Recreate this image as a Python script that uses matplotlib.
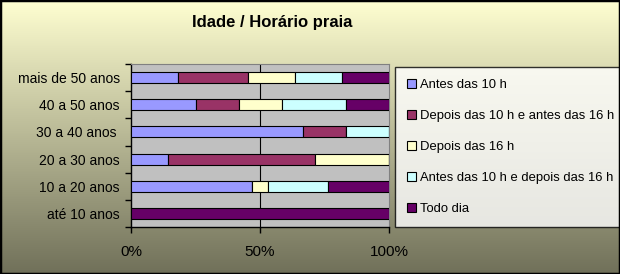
import numpy as np
import matplotlib
matplotlib.use('Agg')
import matplotlib.pyplot as plt
from matplotlib.ticker import FixedLocator

plt.rcParams['font.family'] = ['Liberation Sans', 'DejaVu Sans']

# dados
faixas = ['até 10 anos', '10 a 20 anos', '20 a 30 anos', '30 a 40 anos ', '40 a 50 anos', 'mais de 50 anos']
series = ['Antes das 10 h', 'Depois das 10 h e antes das 16 h', 'Depois das 16 h',
          'Antes das 10 h e depois das 16 h', 'Todo dia']
antes_10 = [0, 46.8, 14.3, 66.7, 25.0, 18.2]
entre_10_16 = [0, 0, 57.1, 16.7, 16.7, 27.3]
depois_16 = [0, 6.2, 28.6, 0, 16.7, 18.2]
antes_depois = [0, 23.3, 0, 16.6, 25.0, 18.2]
todo_dia = [100, 23.7, 0, 0, 16.6, 18.1]
cores = ['#9999FF', '#993366', '#FFFFCC', '#CCFFFF', '#660066']
xticks = [0, 50, 100]
xlabels = ['0%', '50%', '100%']

fig = plt.figure(figsize=(6.2, 2.74), dpi=100)

# fundo degradê
bg = fig.add_axes([0, 0, 1, 1], zorder=-10)
grad = np.linspace(0, 1, 256).reshape(-1, 1)
top = np.array([1.0, 1.0, 0.82])
bot = np.array([0.44, 0.44, 0.35])
img = top + (bot - top) * grad[:, :, None]
bg.imshow(img, aspect='auto', extent=[0, 1, 0, 1])
bg.set_axis_off()
fig.patches.append(plt.Rectangle((0, 0), 1, 1, transform=fig.transFigure,
                                 fill=False, edgecolor='black', linewidth=2.5, zorder=10))

W, H = 620, 274
ax = fig.add_axes([131 / W, 1 - 227 / H, 258 / W, 163 / H])
ax.set_facecolor('#C0C0C0')

y = np.arange(len(faixas))
esq = np.zeros(len(faixas))
for vals, nome, cor in zip([antes_10, entre_10_16, depois_16, antes_depois, todo_dia], series, cores):
    ax.barh(y, vals, left=esq, height=0.4, color=cor, edgecolor='black', linewidth=0.8,
            label=nome, zorder=3)
    esq = esq + np.array(vals)

ax.set_xlim(0, 100)
ax.set_ylim(-0.5, len(faixas) - 0.5)
ax.set_xticks(xticks)
ax.set_xticklabels(xlabels, fontsize=11)
ax.set_yticks(y)
ax.set_yticklabels(faixas, fontsize=10)
ax.yaxis.set_minor_locator(FixedLocator(np.arange(-0.5, len(faixas), 1)))
ax.tick_params(axis='y', which='major', length=0, pad=8)
ax.tick_params(axis='y', which='minor', length=4, width=1, direction='out')
ax.tick_params(axis='x', length=4, width=1, direction='out', pad=9)
ax.axvline(50, color='black', linewidth=0.8, zorder=1)
for s in ['top', 'right']:
    ax.spines[s].set_color('#808080')
for s in ['left', 'bottom']:
    ax.spines[s].set_color('black')
    ax.spines[s].set_linewidth(1)

fig.text(272 / W, 1 - 23 / H, 'Idade / Horário praia', ha='center', va='center',
         fontsize=12, fontweight='bold')

handles, labels = ax.get_legend_handles_labels()
leg = fig.legend(handles, labels, loc='upper left', bbox_to_anchor=(395 / W, 1 - 67 / H),
                 fontsize=9.4, frameon=True, fancybox=False, labelspacing=1.45,
                 handlelength=0.7, handleheight=0.7, handletextpad=0.3, borderpad=0.9,
                 borderaxespad=0)
leg.get_frame().set_edgecolor('black')
leg.get_frame().set_linewidth(1)
leg.get_frame().set_facecolor('white')

fig.savefig('out.png', dpi=100)
